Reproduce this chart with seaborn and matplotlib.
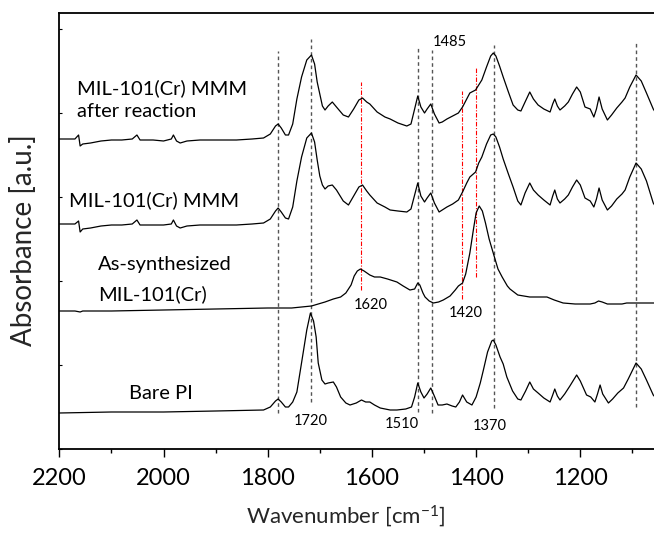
import matplotlib
matplotlib.use("Agg")
import matplotlib.pyplot as plt
from matplotlib.ticker import FixedLocator
import pandas as pd
import seaborn as sns

# ---------------- data (wavenumber cm-1, absorbance a.u. incl. vertical offset) -------------
after_wn = [2200, 2185, 2170, 2163, 2160, 2155, 2140, 2120, 2100, 2080, 2060, 2051, 2045, 2020,
            2000, 1985, 1981, 1975, 1968, 1955, 1930, 1900, 1860, 1830, 1808, 1795, 1785, 1780,
            1774, 1766, 1760, 1752, 1744, 1735, 1725, 1716, 1710, 1705, 1700, 1695, 1690, 1684,
            1676, 1668, 1655, 1645, 1635, 1625, 1618, 1610, 1604, 1590, 1575, 1565, 1550, 1533,
            1525, 1518, 1512, 1506, 1499, 1494, 1487, 1480, 1471, 1465, 1456, 1445, 1434, 1426,
            1418, 1412, 1401, 1395, 1389, 1380, 1372, 1367, 1362, 1355, 1348, 1338, 1329, 1320,
            1314, 1306, 1297, 1290, 1281, 1270, 1258, 1253, 1249, 1244, 1239, 1230, 1223, 1215,
            1207, 1200, 1191, 1181, 1174, 1169, 1164, 1158, 1148, 1140, 1130, 1120, 1114, 1105,
            1093, 1083, 1073, 1060, 1045, 1030]
after_abs = [310, 310, 310, 314, 303, 305, 306, 308, 309, 309, 310, 314, 309, 309,
             308, 310, 314, 308, 306, 308, 309, 309, 309, 310, 311, 315, 323, 325,
             321, 314, 314, 325, 350, 372, 389, 394, 385, 367, 355, 343, 339, 343,
             347, 342, 334, 332, 340, 349, 351, 347, 345, 337, 332, 330, 326, 323,
             325, 340, 353, 342, 336, 340, 345, 335, 326, 327, 330, 333, 336, 342,
             350, 356, 359, 364, 369, 382, 393, 396, 393, 383, 372, 357, 344, 339,
             338, 347, 357, 350, 344, 340, 337, 345, 350, 343, 339, 343, 347, 355,
             362, 357, 342, 340, 332, 340, 352, 340, 329, 334, 341, 347, 351, 362,
             374, 368, 356, 340, 328, 322]

mmm_wn = after_wn
mmm_abs = [225, 225, 225, 228, 217, 220, 221, 223, 224, 224, 225, 229, 224, 224,
           224, 225, 229, 223, 221, 223, 224, 224, 224, 225, 226, 230, 238, 241,
           237, 231, 230, 242, 268, 292, 311, 316, 307, 289, 273, 264, 260, 263,
           264, 259, 248, 244, 253, 262, 264, 258, 254, 246, 242, 239, 238, 237,
           240, 254, 266, 253, 247, 251, 256, 246, 237, 239, 242, 245, 249, 257,
           266, 272, 277, 286, 292, 305, 314, 315, 312, 302, 290, 275, 262, 248,
           244, 256, 266, 259, 254, 249, 244, 253, 259, 250, 246, 250, 254, 262,
           269, 264, 251, 248, 242, 250, 261, 249, 239, 243, 250, 255, 259, 272,
           286, 280, 268, 246, 234, 228]

synth_wn = [2200, 2170, 2160, 2155, 2100, 2000, 1900, 1800, 1754, 1716, 1690, 1674, 1660, 1650,
            1640, 1634, 1628, 1622, 1615, 1604, 1595, 1584, 1570, 1552, 1540, 1527, 1518, 1512,
            1508, 1502, 1498, 1490, 1482, 1472, 1463, 1450, 1440, 1434, 1426, 1420, 1412, 1405,
            1400, 1394, 1388, 1382, 1375, 1366, 1358, 1350, 1340, 1335, 1320, 1297, 1280, 1264,
            1250, 1233, 1210, 1181, 1172, 1165, 1158, 1148, 1137, 1120, 1111, 1090, 1060, 1030]
synth_abs = [138, 138, 137, 138, 138, 139, 140, 141, 141, 143, 147, 150, 152, 156,
             164, 173, 178, 180, 178, 174, 172, 172, 170, 167, 163, 159, 160, 166,
             164, 156, 152, 148, 146, 147, 149, 153, 159, 163, 166, 175, 196, 220,
             236, 243, 238, 226, 210, 194, 180, 172, 163, 160, 154, 152, 152, 152,
             149, 146, 145, 145, 146, 148, 147, 145, 145, 145, 146, 146, 146, 146]

pi_wn = [2200, 2100, 2000, 1900, 1808, 1795, 1785, 1780, 1774, 1766, 1760, 1752, 1744, 1732,
         1725, 1718, 1712, 1707, 1703, 1696, 1690, 1684, 1674, 1668, 1660, 1650, 1642, 1630,
         1620, 1612, 1604, 1595, 1584, 1565, 1552, 1535, 1524, 1518, 1512, 1506, 1500, 1494,
         1487, 1481, 1473, 1465, 1456, 1446, 1439, 1432, 1426, 1418, 1408, 1400, 1392, 1386,
         1378, 1370, 1367, 1362, 1354, 1348, 1341, 1330, 1320, 1314, 1305, 1297, 1290, 1281,
         1270, 1258, 1253, 1249, 1244, 1239, 1230, 1220, 1207, 1200, 1188, 1180, 1172, 1167,
         1162, 1157, 1146, 1138, 1128, 1117, 1108, 1093, 1083, 1073, 1060, 1045, 1030]
pi_abs = [36, 37, 37, 38, 39, 42, 48, 50, 47, 42, 42, 47, 57, 96,
          119, 136, 128, 112, 86, 69, 65, 66, 67, 62, 52, 46, 44, 46,
          49, 47, 47, 44, 41, 39, 39, 40, 42, 52, 66, 57, 51, 55,
          61, 54, 44, 44, 45, 43, 42, 47, 54, 47, 44, 52, 66, 79,
          97, 108, 109, 104, 92, 85, 72, 58, 50, 49, 58, 67, 60, 56,
          51, 47, 54, 60, 53, 49, 55, 63, 74, 68, 54, 52, 47, 55,
          64, 55, 46, 50, 56, 61, 70, 86, 80, 69, 54, 45, 42]

sample_names = ["after reaction", "MMM", "as-synthesized", "bare PI"]

# reference lines (wavenumbers) and their vertical extents
gray_lines_wn = [1780, 1716, 1512, 1485, 1366, 1093]
gray_lines_lo = [36, 47, 37, 36, 41, 42]
gray_lines_hi = [398, 410, 401, 399, 404, 406]
red_lines_wn = [1620, 1427, 1400]
red_lines_lo = [159, 150, 172]
red_lines_hi = [367, 358, 382]

# sample labels: (text, wavenumber of left edge, baseline)
sample_labels = ["MIL-101(Cr) MMM", "after reaction", "MIL-101(Cr) MMM",
                 "As-synthesized", "MIL-101(Cr)", "Bare PI"]
sample_label_wn = [2166, 2166, 2181, 2125, 2125, 2066]
sample_label_y = [355, 332, 243, 179, 149, 50]

# peak labels (text, centre wavenumber, baseline)
peak_labels = ["1485", "1620", "1420", "1720", "1510", "1370"]
peak_label_wn = [1451, 1603, 1420, 1718, 1543, 1373]
peak_label_y = [403, 140, 132, 24, 21, 19]

# axis ticks
major_ticks = [2200, 2000, 1800, 1600, 1400, 1200]
minor_ticks = [2100, 1900, 1700, 1500, 1300, 1100]
y_ticks = [0, 84, 168, 252, 336, 420]

# ---------------- styling ----------------
sns.set_style("ticks")
plt.rcParams['font.family'] = ['Lato', 'DejaVu Sans']
plt.rcParams['mathtext.fontset'] = 'custom'
plt.rcParams['mathtext.rm'] = 'Lato'
plt.rcParams['mathtext.it'] = 'Lato:italic'
plt.rcParams['mathtext.bf'] = 'Lato:bold'

fig = plt.figure(figsize=(6.54, 5.33), dpi=100)
ax = fig.add_axes([59.3 / 654, 84 / 533, 625.2 / 654, 436 / 533])

frames = []
for name, wn, ab in zip(sample_names, [after_wn, mmm_wn, synth_wn, pi_wn],
                        [after_abs, mmm_abs, synth_abs, pi_abs]):
    frames.append(pd.DataFrame({"wn": wn, "abs": ab, "sample": name}))
df = pd.concat(frames, ignore_index=True)

sns.lineplot(data=df, x="wn", y="abs", hue="sample", units="sample", estimator=None,
             sort=False, palette=["black"] * 4, linewidth=0.9, legend=False, ax=ax)

ax.vlines(gray_lines_wn, gray_lines_lo, gray_lines_hi, colors="#555555",
          linestyles=(0, (2.6, 2.2)), linewidth=1.0, zorder=1)
ax.vlines(red_lines_wn, red_lines_lo, red_lines_hi, colors="#ff0000",
          linestyles=(0, (4, 1.5, 1, 1.5)), linewidth=0.8, zorder=1)

for t, x, y in zip(sample_labels, sample_label_wn, sample_label_y):
    ax.text(x, y, t, ha="left", va="baseline", fontsize=14.5, color="black")
for t, x, y in zip(peak_labels, peak_label_wn, peak_label_y):
    ax.text(x, y, t, ha="center", va="baseline", fontsize=10.5, color="black")

ax.set_xlim(2200, 1000)
ax.set_ylim(0, 436)
ax.xaxis.set_major_locator(FixedLocator(major_ticks))
ax.xaxis.set_minor_locator(FixedLocator(minor_ticks))
ax.set_yticks(y_ticks)
ax.tick_params(axis="x", which="major", direction="out", length=5.8, width=1.0,
               labelsize=17, pad=8, color="black", labelcolor="black")
ax.tick_params(axis="x", which="minor", direction="out", length=3.0, width=1.0, color="black")
ax.tick_params(axis="y", which="both", direction="in", length=2.2, width=0.8,
               labelleft=False, color="black")
for s in ax.spines.values():
    s.set_linewidth(1.3)
    s.set_color("black")

ax.set_xlabel("Wavenumber [cm$^{-1}$]", fontsize=16)
ax.xaxis.set_label_coords((345.5 - 59.3) / 625.2, (449 - 503) / 436)
ax.set_ylabel("Absorbance [a.u.]", fontsize=20)
ax.yaxis.set_label_coords((37 - 59.3) / 625.2, (449 - 240) / 436)

fig.savefig("out.png", dpi=100)
